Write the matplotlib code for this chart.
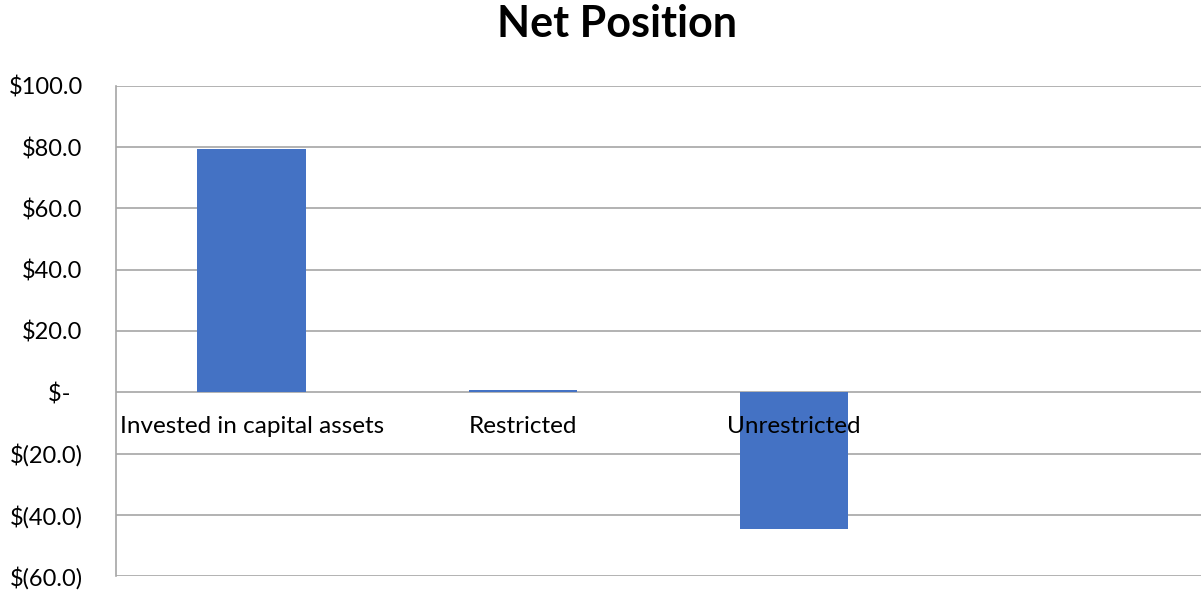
import matplotlib
matplotlib.use("Agg")
from matplotlib import pyplot as plt
from matplotlib.ticker import FuncFormatter

plt.rcParams['font.family'] = ['Lato', 'DejaVu Sans']

categories = ['Invested in capital assets', 'Restricted', 'Unrestricted', '']
values = [79.3, 0.6, -44.7, 0]
y_ticks = [-60, -40, -20, 0, 20, 40, 60, 80, 100]


def money(v, pos=None):
    if v == 0:
        return '$-  '
    if v < 0:
        return '$(%.1f)' % -v
    return '$%.1f' % v


fig = plt.figure(figsize=(12.01, 5.92), dpi=100)
ax = fig.add_axes([116 / 1201, 16 / 592, 1 - 116 / 1201, 490 / 592])

x = list(range(len(categories)))
ax.bar(x, values, width=0.40, color='#4472C4', zorder=3)

ax.set_xlim(-0.5, len(categories) - 0.5)
ax.set_ylim(-60, 100)
ax.set_yticks(y_ticks)
ax.yaxis.set_major_formatter(FuncFormatter(money))
ax.tick_params(axis='y', length=0, labelsize=17, pad=24)
ax.set_xticks([])
ax.grid(axis='y', color='#a6a6a6', linewidth=1.2, zorder=0)

for s in ['top', 'right', 'bottom']:
    ax.spines[s].set_visible(False)
ax.spines['left'].set_color('#a6a6a6')
ax.spines['left'].set_linewidth(1.2)

for i, c in enumerate(categories):
    ax.text(i, -11.2, c, ha='center', va='center', fontsize=17.5, zorder=4)

fig.text(0.514, 0.960, 'Net Position', ha='center', va='center',
         fontsize=31, fontweight='bold')

fig.savefig('out.png', dpi=100)
